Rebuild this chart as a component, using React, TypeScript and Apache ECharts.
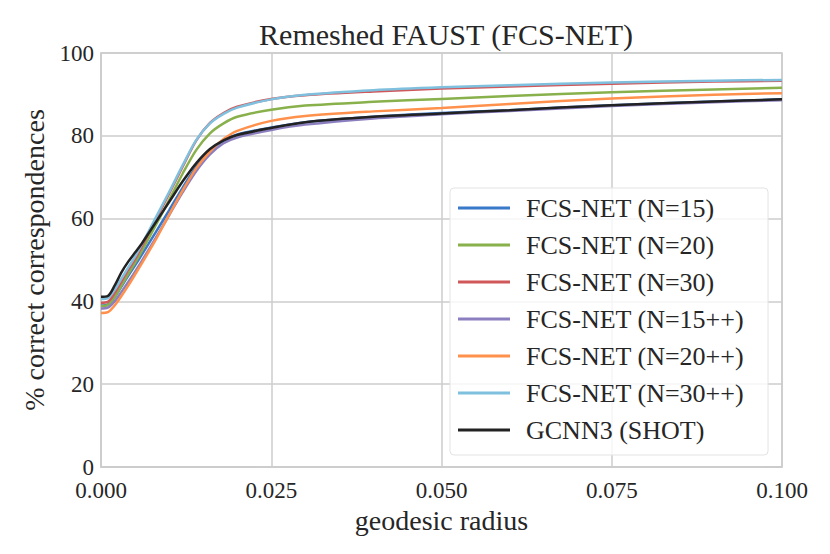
import React, { useEffect, useRef } from "react";
import * as echarts from "echarts";

const radii = [0, 0.001, 0.002, 0.003, 0.004, 0.005, 0.006, 0.008, 0.01, 0.012, 0.014, 0.016, 0.018, 0.02, 0.025, 0.03, 0.04, 0.05, 0.06, 0.075, 0.09, 0.1];

const n15 = [39.0, 39.2, 41.0, 43.6, 46.2, 48.7, 51.3, 56.6, 62.0, 67.5, 72.5, 76.3, 78.8, 80.3, 82.0, 83.3, 84.6, 85.5, 86.2, 87.4, 88.3, 88.8];
const n20 = [38.9, 39.1, 41.0, 43.8, 46.6, 49.3, 52.2, 58.3, 64.5, 70.9, 76.6, 80.6, 83.0, 84.6, 86.3, 87.3, 88.2, 88.9, 89.6, 90.5, 91.2, 91.6];
const n30 = [39.7, 39.9, 42.0, 44.8, 47.6, 50.2, 53.2, 59.6, 66.0, 72.6, 78.9, 83.1, 85.5, 87.0, 88.9, 89.8, 90.7, 91.4, 91.9, 92.6, 93.1, 93.3];
const n15pp = [38.3, 38.5, 40.0, 42.3, 44.7, 47.2, 49.8, 55.2, 60.8, 66.4, 71.5, 75.5, 78.2, 79.6, 81.4, 82.7, 84.2, 85.2, 86.0, 87.2, 88.1, 88.6];
const n20pp = [37.2, 37.4, 39.0, 41.3, 43.8, 46.5, 49.2, 54.8, 60.9, 66.8, 72.2, 76.2, 79.2, 81.2, 83.6, 84.8, 85.9, 86.7, 87.7, 89.0, 89.9, 90.3];
const n30pp = [40.6, 40.8, 42.8, 45.5, 48.2, 50.8, 53.8, 60.1, 66.4, 72.9, 79.0, 83.0, 85.3, 86.8, 88.8, 89.9, 91.0, 91.7, 92.2, 92.9, 93.3, 93.5];
const gcnn3 = [41.1, 41.3, 43.8, 47.0, 49.6, 51.8, 54.0, 59.0, 64.0, 69.0, 73.4, 76.8, 78.9, 80.2, 81.9, 83.3, 84.6, 85.4, 86.2, 87.4, 88.3, 88.8];

const seriesNames = [
  "FCS-NET (N=15)",
  "FCS-NET (N=20)",
  "FCS-NET (N=30)",
  "FCS-NET (N=15++)",
  "FCS-NET (N=20++)",
  "FCS-NET (N=30++)",
  "GCNN3 (SHOT)",
];
const seriesValues = [n15, n20, n30, n15pp, n20pp, n30pp, gcnn3];
const seriesColors = ["#3a78c9", "#88b04b", "#d0585b", "#8c7fc0", "#ff914d", "#7fc0de", "#222222"];

const xTicks = [0, 0.025, 0.05, 0.075, 0.1];
const yTicks = [0, 20, 40, 60, 80, 100];

const FONT = "'Liberation Serif', 'DejaVu Serif', serif";

export default function App() {
  const ref = useRef<HTMLDivElement>(null);
  useEffect(() => {
    document.body.style.margin = "0";
    if (!ref.current) return;
    const chart = echarts.init(ref.current, undefined, { renderer: "svg" });
    chart.setOption({
      animation: false,
      backgroundColor: "#ffffff",
      textStyle: { fontFamily: FONT },
      title: {
        text: "Remeshed FAUST (FCS-NET)",
        left: 441,
        textAlign: "center",
        top: 14,
        textStyle: { fontFamily: FONT, fontSize: 30, fontWeight: "normal", color: "#262626" },
      },
      grid: {
        left: 101,
        right: 48,
        top: 53,
        bottom: 87,
        show: true,
        borderColor: "#cccccc",
        borderWidth: 1.5,
        containLabel: false,
      },
      legend: {
        orient: "vertical",
        left: 450,
        top: 188,
        padding: [7, 24, 12, 8],
        itemGap: 11,
        itemWidth: 52,
        itemHeight: 3,
        icon: "rect",
        backgroundColor: "rgba(255,255,255,0.8)",
        borderColor: "#e3e3e3",
        borderWidth: 1,
        borderRadius: 4,
        data: seriesNames,
        textStyle: {
          fontFamily: FONT,
          fontSize: 26,
          lineHeight: 26,
          color: "#262626",
          padding: [0, 0, 0, 11],
        },
      },
      xAxis: {
        type: "value",
        min: 0,
        max: 0.1,
        interval: 0.025,
        name: "geodesic radius",
        nameLocation: "middle",
        nameGap: 30,
        nameTextStyle: { fontFamily: FONT, fontSize: 28, color: "#262626" },
        axisLine: { show: true, lineStyle: { color: "#cccccc", width: 1.5 } },
        axisTick: { show: false },
        axisLabel: {
          fontFamily: FONT,
          fontSize: 23,
          color: "#262626",
          margin: 12,
          formatter: (v: number) => (xTicks.some((t) => Math.abs(t - v) < 1e-9) ? v.toFixed(3) : ""),
        },
        splitLine: { show: true, lineStyle: { color: "#cccccc", width: 1.5 } },
      },
      yAxis: {
        type: "value",
        min: 0,
        max: 100,
        interval: 20,
        name: "% correct correspondences",
        nameLocation: "middle",
        nameGap: 48,
        nameTextStyle: { fontFamily: FONT, fontSize: 28, color: "#262626" },
        axisLine: { show: true, lineStyle: { color: "#cccccc", width: 1.5 } },
        axisTick: { show: false },
        axisLabel: {
          fontFamily: FONT,
          fontSize: 23,
          color: "#262626",
          margin: 7,
          formatter: (v: number) => (yTicks.includes(v) ? String(v) : ""),
        },
        splitLine: { show: true, lineStyle: { color: "#cccccc", width: 1.5 } },
      },
      series: seriesNames.map((name, i) => ({
        name,
        type: "line",
        showSymbol: false,
        symbol: "none",
        smooth: 0.3,
        color: seriesColors[i],
        lineStyle: { width: 2.5, color: seriesColors[i] },
        data: radii.map((x, j) => [x, seriesValues[i][j]]),
        z: 2 + i,
      })),
    });
    return () => chart.dispose();
  }, []);
  return <div ref={ref} style={{ width: 830, height: 554 }} />;
}
